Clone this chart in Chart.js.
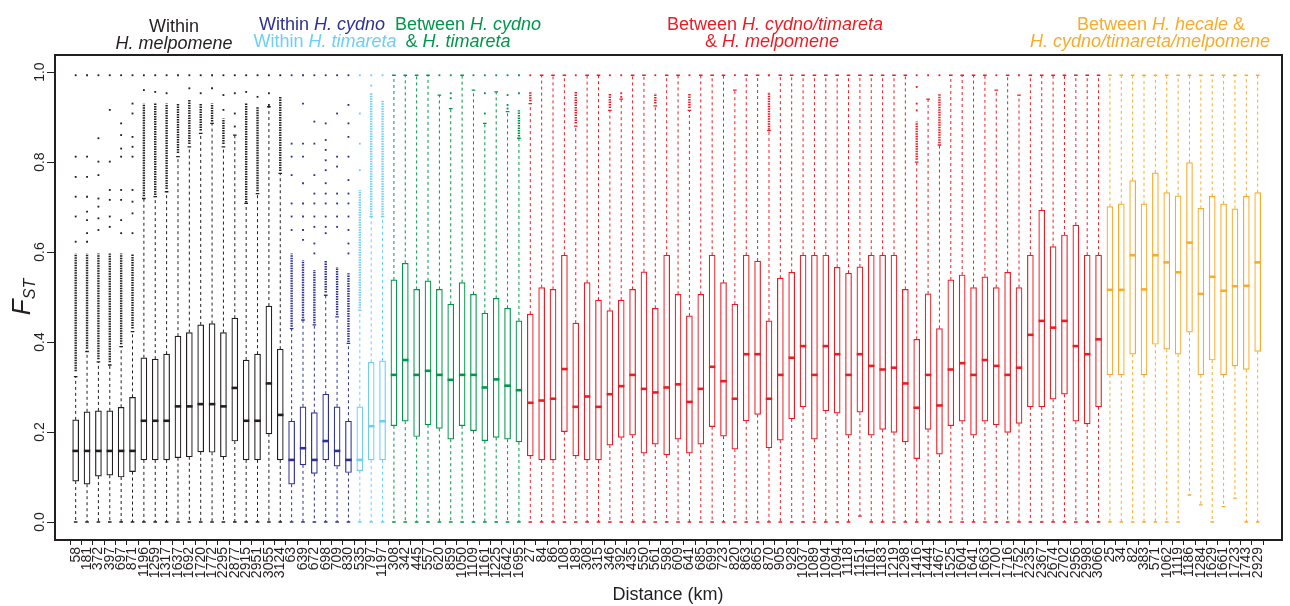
<!DOCTYPE html>
<html>
<head>
<meta charset="utf-8">
<script src="https://cdn.jsdelivr.net/npm/chart.js@4.4.1/dist/chart.umd.min.js"></script>
<style>
  html, body { margin: 0; padding: 0; background: #fff; }
</style>
</head>
<body>
<canvas id="fstChart" width="1290" height="606"></canvas>
<script>
// distance (km) of every population pair, in plotting order
const distanceLabels = [
  // within H. melpomene
  "58","181","372","397","697","871","1196","1259","1317","1637","1692","1720","1772","2295","2877","2915","2951","3055","3124",
  // within H. cydno
  "63","639","672","698","709","830",
  // within H. timareta
  "535","797","1197",
  // between H. cydno & H. timareta
  "308","342","445","557","620","859","1050","1109","1161","1225","1642","1695",
  // between H. cydno/timareta & H. melpomene
  "27","84","86","108","189","308","315","346","392","435","550","561","598","609","641","685","699","723","820","863",
  "865","870","905","928","1037","1089","1094","1094","1118","1151","1161","1183","1219","1298","1416","1444","1467","1525","1604","1641",
  "1663","1700","1716","1752","2235","2367","2674","2702","2956","2998","3066",
  // between H. hecale & the others
  "25","34","82","383","571","1062","1119","1186","1284","1629","1661","1723","1743","2929"
];

const groupSizes = [19, 6, 3, 12, 51, 14];
const groupColors = ["#231f20", "#2e3192", "#6dcff6", "#00964b", "#ed1c24", "#f9ab2a"];

const q1Values = [
  0.091,0.084,0.102,0.104,0.100,0.112,0.138,0.138,0.138,0.143,0.145,0.156,0.155,0.145,0.180,0.138,0.138,0.196,0.138,
  0.084,0.127,0.108,0.138,0.124,0.110,
  0.114,0.138,0.138,
  0.214,0.224,0.190,0.216,0.208,0.184,0.214,0.203,0.181,0.188,0.184,0.178,
  0.147,0.138,0.138,0.201,0.147,0.138,0.138,0.171,0.188,0.193,0.153,0.173,0.149,0.184,0.153,0.173,0.212,0.191,0.162,0.225,
  0.239,0.165,0.182,0.229,0.256,0.184,0.247,0.242,0.193,0.244,0.193,0.206,0.199,0.178,0.141,0.206,0.151,0.214,0.224,0.193,
  0.224,0.216,0.199,0.219,0.256,0.256,0.273,0.284,0.224,0.218,0.256,
  0.327,0.327,0.373,0.327,0.395,0.384,0.373,0.422,0.327,0.360,0.327,0.347,0.339,0.379
];

const medianValues = [
  0.158,0.158,0.158,0.158,0.158,0.158,0.225,0.225,0.225,0.257,0.257,0.262,0.262,0.257,0.298,0.225,0.225,0.308,0.238,
  0.138,0.164,0.138,0.180,0.158,0.138,
  0.138,0.213,0.224,
  0.327,0.360,0.327,0.336,0.327,0.316,0.327,0.327,0.299,0.317,0.303,0.293,
  0.265,0.270,0.274,0.340,0.256,0.279,0.256,0.284,0.302,0.327,0.296,0.288,0.299,0.306,0.267,0.296,0.345,0.313,0.274,0.373,
  0.373,0.274,0.327,0.365,0.391,0.327,0.391,0.373,0.327,0.373,0.347,0.339,0.343,0.308,0.254,0.327,0.259,0.339,0.353,0.327,
  0.360,0.347,0.327,0.343,0.416,0.447,0.432,0.447,0.391,0.373,0.406,
  0.516,0.516,0.593,0.517,0.593,0.577,0.555,0.621,0.507,0.545,0.514,0.524,0.525,0.577
];

const q3Values = [
  0.227,0.245,0.247,0.247,0.255,0.277,0.365,0.362,0.373,0.413,0.421,0.438,0.441,0.421,0.453,0.360,0.373,0.480,0.384,
  0.224,0.256,0.243,0.284,0.256,0.224,
  0.256,0.355,0.358,
  0.538,0.575,0.517,0.536,0.517,0.484,0.532,0.506,0.464,0.497,0.475,0.447,
  0.462,0.521,0.517,0.593,0.442,0.532,0.493,0.470,0.493,0.517,0.556,0.475,0.593,0.506,0.458,0.506,0.593,0.532,0.484,0.593,
  0.580,0.447,0.542,0.555,0.593,0.593,0.593,0.566,0.553,0.567,0.593,0.593,0.593,0.517,0.406,0.507,0.430,0.538,0.549,0.521,
  0.545,0.521,0.555,0.521,0.593,0.693,0.612,0.638,0.660,0.593,0.593,
  0.701,0.707,0.759,0.707,0.776,0.732,0.725,0.799,0.697,0.724,0.707,0.696,0.724,0.732
];

const whiskerLow = [
  0,0,0,0,0,0,0,0,0,0,0,0,0,0,0,0,0,0,0,
  0,0,0,0,0,0,
  0,0,0,
  0,0,0,0,0,0,0,0,0,0,0,0,
  0,0,0,0,0,0,0,0,0,0,0,0,0,0,0,0,0,0,0,0,
  0,0,0,0,0,0,0,0,0,0.013,0,0,0,0,0,0,0,0,0,0,
  0,0,0,0,0,0,0,0,0,0,0,
  0,0,0,0,0,0,0,0.060,0.038,0,0.034,0.053,0,0
];

const whiskerHigh = [
  0.323,0.379,0.356,0.349,0.390,0.423,0.719,0.723,0.734,0.812,0.834,0.864,0.886,0.834,0.860,0.708,0.730,0.923,0.775,
  0.430,0.449,0.438,0.504,0.456,0.397,
  0.471,0.679,0.679,
  0.993,0.993,0.993,0.993,0.949,0.919,0.993,0.960,0.886,0.956,0.912,0.853,
  0.930,0.993,0.993,0.993,0.880,0.993,0.993,0.915,0.940,0.993,0.993,0.925,0.993,0.993,0.915,0.993,0.993,0.993,0.960,0.993,
  0.993,0.870,0.993,0.993,0.993,0.993,0.993,0.993,0.993,0.993,0.993,0.993,0.993,0.993,0.800,0.940,0.838,0.993,0.993,0.993,
  0.993,0.960,0.993,0.949,0.993,0.993,0.993,0.993,0.993,0.993,0.993,
  0.993,0.993,0.993,0.993,0.993,0.993,0.993,0.993,0.993,0.993,0.993,0.993,0.993,0.993
];

// single outliers above the upper whisker
const outlierPoints = [
  [0.993,0.812,0.767,0.723,0.679,0.623],
  [0.993,0.812,0.767,0.723,0.690,0.671,0.642,0.623],
  [0.993,0.853,0.801,0.771,0.719,0.701,0.675,0.649],
  [0.993,0.916,0.801,0.738,0.716,0.679,0.656],
  [0.993,0.886,0.860,0.830,0.812,0.738,0.716,0.671,0.642],
  [0.993,0.930,0.908,0.856,0.834,0.812,0.738,0.712,0.686,0.642],
  [0.993,0.960],[0.993,0.956],[0.993,0.953],[0.993],[0.993,0.964],[0.993,0.953],[0.993,0.964],
  [0.993,0.949,0.916],[0.993,0.953,0.908,0.879],[0.993,0.956],[0.993,0.945],[0.993,0.953,0.927],[0.993],
  [0.993,0.841,0.812,0.771,0.708,0.679,0.649],
  [0.993,0.930,0.841,0.812,0.753,0.708,0.679,0.649,0.627],
  [0.993,0.890,0.841,0.771,0.730,0.708,0.679,0.656,0.619,0.597],
  [0.993,0.886,0.849,0.827,0.804,0.782,0.753,0.730,0.708,0.679,0.656,0.642],
  [0.993,0.908,0.812,0.790,0.730,0.708,0.679,0.656],
  [0.993,0.927,0.886,0.856,0.812,0.760,0.730,0.708,0.679,0.649,0.619,0.597],
  [0.993,0.908,0.841,0.782],[0.993,0.970],[0.993],
  [],[],[],[],[0.993],[0.993,0.953,0.942],[],[0.993],[0.993,0.953,0.908],[0.993],[0.993,0.949,0.927,0.919],[0.993,0.953],
  [0.993],[],[],[],[0.993],[],[],[0.993],[0.993,0.953,0.945],[],
  [],[0.993],[],[],[0.993],[],[],[],[0.993],[],
  [],[0.993],[],[],[],[],[],[],[],[],
  [],[],[],[],[0.993,0.967,0.930,0.915],[0.993],[0.993],[],[],[],
  [],[0.993],[],[0.993],[],[],[],[],[],[],[],
  [],[],[],[],[],[],[],[],[],[],[],[],[],[]
];

// stretches where outliers overlap into a solid column [from, to]
const outlierBands = [
  [[0.335,0.597]],[[0.385,0.597]],[[0.362,0.597]],[[0.355,0.597]],[[0.395,0.597]],[[0.430,0.597]],
  [[0.724,0.930]],[[0.727,0.930]],[[0.740,0.930]],[[0.820,0.930]],[[0.840,0.938]],[[0.870,0.930]],[[0.890,0.930]],
  [[0.840,0.897]],[],[[0.710,0.930]],[[0.735,0.923]],[],[[0.780,0.945]],
  [[0.434,0.597]],[[0.453,0.582]],[[0.442,0.560]],[[0.510,0.582]],[[0.460,0.567]],[[0.400,0.553]],
  [[0.475,0.738]],[[0.683,0.953]],[[0.683,0.938]],
  [],[],[],[],[],[],[],[],[],[],[],[[0.857,0.915]],
  [[0.935,0.956]],[],[],[],[[0.886,0.956]],[],[],[[0.920,0.953]],[],[],
  [],[[0.930,0.953]],[],[],[[0.920,0.953]],[],[],[],[],[],
  [],[[0.872,0.956]],[],[],[],[],[],[],[],[],
  [],[],[],[],[[0.805,0.890]],[],[[0.842,0.953]],[],[],[],
  [],[],[],[],[],[],[],[],[],[],[],
  [],[],[],[],[],[],[],[],[],[],[],[],[],[]
];

const yTickValues = [0, 0.2, 0.4, 0.6, 0.8, 1.0];

const boxColors = [];
groupSizes.forEach((n, g) => {
  for (let k = 0; k < n; k++) boxColors.push(groupColors[g]);
});

const outlierData = [];
const outlierColors = [];
outlierPoints.forEach((vals, i) => {
  vals.forEach(v => {
    outlierData.push({ x: i, y: v });
    outlierColors.push(boxColors[i]);
  });
});

const FONT = '"Liberation Sans", Arial, sans-serif';

function drawRichLine(ctx, segments, cx, baseline, color) {
  const fontFor = it => (it ? "italic " : "") + "18px " + FONT;
  let total = 0;
  segments.forEach(([t, it]) => {
    ctx.font = fontFor(it);
    total += ctx.measureText(t).width;
  });
  let xPos = cx - total / 2;
  ctx.fillStyle = color;
  ctx.textAlign = "left";
  ctx.textBaseline = "alphabetic";
  segments.forEach(([t, it]) => {
    ctx.font = fontFor(it);
    ctx.fillText(t, xPos, baseline);
    xPos += ctx.measureText(t).width;
  });
}

const boxPlotPlugin = {
  id: "boxWhiskers",

  beforeDatasetsDraw(chart) {
    const { ctx, scales: { x, y } } = chart;
    ctx.save();
    distanceLabels.forEach((_, i) => {
      const px = x.getPixelForValue(i);
      const color = boxColors[i];
      const yTop = y.getPixelForValue(whiskerHigh[i]);
      const yBot = y.getPixelForValue(whiskerLow[i]);

      // dashed whiskers
      ctx.strokeStyle = color;
      ctx.lineWidth = 1;
      ctx.setLineDash([3, 3]);
      ctx.beginPath();
      ctx.moveTo(px, y.getPixelForValue(q3Values[i]));
      ctx.lineTo(px, yTop);
      ctx.moveTo(px, y.getPixelForValue(q1Values[i]));
      ctx.lineTo(px, yBot);
      ctx.stroke();

      // small staples
      ctx.setLineDash([]);
      ctx.lineWidth = 1.3;
      ctx.beginPath();
      ctx.moveTo(px - 1.8, yTop);
      ctx.lineTo(px + 1.8, yTop);
      ctx.moveTo(px - 1.8, yBot);
      ctx.lineTo(px + 1.8, yBot);
      ctx.stroke();

      // dense outlier columns
      ctx.lineWidth = 2.4;
      ctx.setLineDash([1.5, 1]);
      outlierBands[i].forEach(([lo, hi]) => {
        ctx.beginPath();
        ctx.moveTo(px, y.getPixelForValue(lo));
        ctx.lineTo(px, y.getPixelForValue(hi));
        ctx.stroke();
      });
    });
    ctx.restore();
  },

  afterDraw(chart) {
    const { ctx, chartArea: a, scales: { y } } = chart;
    ctx.save();

    // frame
    ctx.strokeStyle = "#231f20";
    ctx.lineWidth = 2;
    ctx.strokeRect(a.left, a.top, a.right - a.left, a.bottom - a.top);

    // y tick labels, turned like the x labels
    ctx.fillStyle = "#231f20";
    ctx.font = "14px " + FONT;
    ctx.textAlign = "center";
    ctx.textBaseline = "middle";
    yTickValues.forEach(v => {
      ctx.save();
      ctx.translate(40, y.getPixelForValue(v));
      ctx.rotate(-Math.PI / 2);
      ctx.fillText(v.toFixed(1), 0, 0);
      ctx.restore();
    });

    // y title F_ST
    ctx.save();
    ctx.translate(30, 297);
    ctx.rotate(-Math.PI / 2);
    ctx.textAlign = "left";
    ctx.textBaseline = "alphabetic";
    ctx.font = "italic 26px " + FONT;
    const fW = ctx.measureText("F").width;
    ctx.font = "italic 16px " + FONT;
    const sW = ctx.measureText("ST").width;
    const start = -(fW + sW) / 2;
    ctx.font = "italic 26px " + FONT;
    ctx.fillText("F", start, 0);
    ctx.font = "italic 16px " + FONT;
    ctx.fillText("ST", start + fW, 5);
    ctx.restore();

    // x title
    ctx.font = "18px " + FONT;
    ctx.textAlign = "center";
    ctx.textBaseline = "middle";
    ctx.fillText("Distance (km)", 668, 595);

    // group titles
    drawRichLine(ctx, [["Within", false]], 174, 32, groupColors[0]);
    drawRichLine(ctx, [["H. melpomene", true]], 174, 49, groupColors[0]);
    drawRichLine(ctx, [["Within ", false], ["H. cydno", true]], 322, 30, groupColors[1]);
    drawRichLine(ctx, [["Within ", false], ["H. timareta", true]], 325, 47, groupColors[2]);
    drawRichLine(ctx, [["Between ", false], ["H. cydno", true]], 468, 30, groupColors[3]);
    drawRichLine(ctx, [["& ", false], ["H. timareta", true]], 458, 47, groupColors[3]);
    drawRichLine(ctx, [["Between ", false], ["H. cydno/timareta", true]], 775, 30, groupColors[4]);
    drawRichLine(ctx, [["& ", false], ["H. melpomene", true]], 772, 47, groupColors[4]);
    drawRichLine(ctx, [["Between ", false], ["H. hecale", true], [" &", false]], 1161, 30, groupColors[5]);
    drawRichLine(ctx, [["H. cydno/timareta/melpomene", true]], 1150, 47, groupColors[5]);

    ctx.restore();
  }
};

new Chart(document.getElementById("fstChart"), {
  type: "bar",
  data: {
    datasets: [
      {
        type: "scatter",
        label: "median",
        data: medianValues.map((v, i) => ({ x: i, y: v })),
        pointStyle: "line",
        pointRadius: 3.2,
        pointBorderWidth: 2.6,
        pointBorderColor: boxColors,
        order: 0
      },
      {
        type: "scatter",
        label: "outliers",
        data: outlierData,
        pointStyle: "rect",
        pointRadius: 1.3,
        pointBorderWidth: 0,
        pointBackgroundColor: outlierColors,
        order: 1
      },
      {
        type: "bar",
        label: "IQR",
        data: q1Values.map((v, i) => ({ x: i, y: [v, q3Values[i]] })),
        backgroundColor: "#ffffff",
        borderColor: boxColors,
        borderWidth: 1.2,
        borderSkipped: false,
        barThickness: 6,
        order: 2
      }
    ]
  },
  options: {
    responsive: false,
    animation: false,
    devicePixelRatio: 1,
    layout: {
      padding: { top: 55, right: 8, left: 0, bottom: 0 }
    },
    plugins: {
      legend: { display: false },
      tooltip: { enabled: false }
    },
    scales: {
      x: {
        type: "linear",
        min: -1.82,
        max: 106.14,
        offset: false,
        afterBuildTicks: s => {
          s.ticks = distanceLabels.map((_, i) => ({ value: i }));
        },
        afterFit: s => {
          s.height = 66;
        },
        ticks: {
          autoSkip: false,
          minRotation: 90,
          maxRotation: 90,
          padding: 2,
          color: "#231f20",
          font: { size: 14, family: FONT },
          callback: v => distanceLabels[v]
        },
        grid: {
          drawOnChartArea: false,
          drawTicks: true,
          tickLength: 5,
          color: "#231f20",
          lineWidth: 1
        },
        border: { display: false }
      },
      y: {
        min: -0.04,
        max: 1.038,
        afterBuildTicks: s => {
          s.ticks = yTickValues.map(v => ({ value: v }));
        },
        afterFit: s => {
          s.width = 55;
        },
        ticks: { display: false },
        grid: {
          drawOnChartArea: false,
          drawTicks: true,
          tickLength: 8,
          color: "#231f20",
          lineWidth: 1
        },
        border: { display: false }
      }
    }
  },
  plugins: [boxPlotPlugin]
});
</script>
</body>
</html>
